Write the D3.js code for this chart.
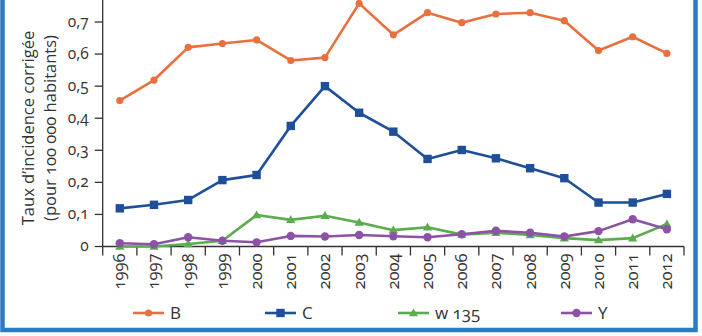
<!DOCTYPE html>
<html>
<head>
<meta charset="utf-8">
<script src="https://cdn.jsdelivr.net/npm/d3@7"></script>
<style>
  html, body { margin: 0; padding: 0; background: #fff; }
  svg { display: block; font-family: "Open Sans", "Noto Sans", sans-serif; font-variant-numeric: oldstyle-nums; }
</style>
</head>
<body>
<svg id="chart" width="702" height="336"></svg>
<script>
// Incidence rates by serogroup, 1996–2012
const years = ["1996","1997","1998","1999","2000","2001","2002","2003","2004","2005","2006","2007","2008","2009","2010","2011","2012"];
const serieB    = [0.455,0.519,0.621,0.633,0.644,0.580,0.589,0.758,0.660,0.729,0.698,0.725,0.729,0.704,0.611,0.654,0.602];
const serieC    = [0.119,0.130,0.145,0.207,0.223,0.376,0.500,0.417,0.358,0.273,0.301,0.275,0.244,0.213,0.137,0.137,0.164];
const serieW135 = [0.000,0.000,0.008,0.018,0.098,0.083,0.096,0.075,0.051,0.060,0.037,0.043,0.036,0.026,0.020,0.026,0.070];
const serieY    = [0.010,0.007,0.029,0.018,0.013,0.033,0.031,0.036,0.032,0.029,0.038,0.049,0.043,0.031,0.048,0.085,0.054];
const yTicks = [0,0.1,0.2,0.3,0.4,0.5,0.6,0.7];
const yTitle = ["Taux d\u2019incidence corrigée", "(pour 100 000 habitants)"];

const series = [
  { name: "B",     values: serieB,    color: "#e8703f", shape: "circle",   r: 3.6 },
  { name: "C",     values: serieC,    color: "#1e4f98", shape: "square",   r: 4.2 },
  { name: "w 135", values: serieW135, color: "#5aac4c", shape: "triangle", r: 4.6 },
  { name: "Y",     values: serieY,    color: "#8b52a6", shape: "circle",   r: 4.2 }
];

const svg = d3.select("#chart");
const fmt = v => d3.format(".1f")(v).replace(".", ",");

const x = d3.scaleBand().domain(years).range([102.7, 684]).paddingInner(0).paddingOuter(0);
const y = d3.scaleLinear().domain([0, 0.7]).range([246.5, 22]);
const yTop = y.invert(0);

// Y axis
const yAxis = svg.append("g").attr("transform", "translate(102.7,0)");
yAxis.append("line").attr("x1", 0).attr("x2", 0).attr("y1", y(0)).attr("y2", y(yTop))
  .attr("stroke", "#333").attr("stroke-width", 1.3);
yAxis.selectAll("g.tick").data(yTicks).join("g").attr("class", "tick")
  .attr("transform", d => `translate(0,${y(d)})`)
  .each(function(d) {
    const g = d3.select(this);
    g.append("line").attr("x1", -8).attr("x2", 0).attr("stroke", "#333").attr("stroke-width", 1.3);
    g.append("text").attr("x", -14).attr("dy", "0.32em").attr("text-anchor", "end")
      .attr("font-size", 15.5).attr("fill", "#333").text(d === 0 ? "0" : fmt(d));
  });

// X axis
const xAxis = svg.append("g").attr("transform", `translate(0,${y(0)})`);
xAxis.append("line").attr("x1", x.range()[0]).attr("x2", x.range()[1])
  .attr("stroke", "#333").attr("stroke-width", 1.3);
const bounds = years.map(d => x(d)).concat([x.range()[1]]);
xAxis.selectAll("line.tk").data(bounds).join("line").attr("class", "tk")
  .attr("x1", d => d).attr("x2", d => d).attr("y1", 0).attr("y2", 9)
  .attr("stroke", "#333").attr("stroke-width", 1.3);
xAxis.selectAll("text").data(years).join("text")
  .attr("transform", d => `translate(${x(d) + x.bandwidth() / 2 + 5.5},7) rotate(-90)`)
  .attr("text-anchor", "end").attr("font-size", 16.5).attr("fill", "#333").text(d => d);

// Axis title
svg.append("g").attr("transform", "translate(34,128) rotate(-90)")
  .selectAll("text").data(yTitle).join("text")
  .attr("y", (d, i) => i * 22).attr("text-anchor", "middle")
  .attr("font-size", 16.5).attr("fill", "#333").text(d => d);

// Markers
function drawMarker(g, s, cx, cy) {
  if (s.shape === "circle") {
    g.append("circle").attr("cx", cx).attr("cy", cy).attr("r", s.r).attr("fill", s.color);
  } else if (s.shape === "square") {
    g.append("rect").attr("x", cx - s.r).attr("y", cy - s.r).attr("width", 2 * s.r).attr("height", 2 * s.r).attr("fill", s.color);
  } else {
    const r = s.r;
    g.append("path").attr("d", `M${cx},${cy - r}L${cx + r},${cy + r * 0.7}L${cx - r},${cy + r * 0.7}Z`).attr("fill", s.color);
  }
}

const line = d3.line().x((d, i) => x(years[i]) + x.bandwidth() / 2).y(d => y(d));
series.forEach(s => {
  const g = svg.append("g");
  g.append("path").attr("d", line(s.values)).attr("fill", "none")
    .attr("stroke", s.color).attr("stroke-width", 2.6).attr("stroke-linejoin", "round");
  s.values.forEach((v, i) => drawMarker(g, s, x(years[i]) + x.bandwidth() / 2, y(v)));
});

// Legend
const legendX = [133, 265, 398, 561];
series.forEach((s, i) => {
  const g = svg.append("g").attr("transform", `translate(${legendX[i]},313)`);
  g.append("line").attr("x1", 0).attr("x2", 31).attr("stroke", s.color).attr("stroke-width", 2.6);
  drawMarker(g, s, 15.5, 0);
  g.append("text").attr("x", 37).attr("dy", "0.35em").attr("font-size", 17).attr("fill", "#333").text(s.name);
});

// Frame
svg.append("path").attr("d", "M2.5,0V330H695.5V0")
  .attr("fill", "none").attr("stroke", "#2a7cc2").attr("stroke-width", 4.5);
</script>
</body>
</html>
